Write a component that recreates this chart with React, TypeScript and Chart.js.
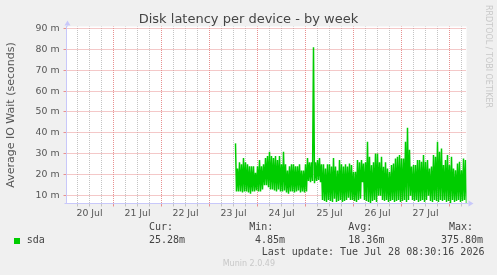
import React, { useEffect, useRef } from 'react';
import { Chart, registerables } from 'chart.js';

Chart.register(...registerables);

const TITLE = 'Disk latency per device - by week';
const Y_TITLE = 'Average IO Wait (seconds)';
const SERIES = 'sda';
const WATERMARK = 'RRDTOOL / TOBI OETIKER';
const FOOTER = 'Munin 2.0.49';
const LAST_UPDATE = 'Last update: Tue Jul 28 08:30:16 2026';

// x axis in hours since 20 Jul 00:00
const X_MIN = 0.5;
const X_MAX = 200.5;
const X_GRID_HOURS = [6, 12, 18, 24, 30, 36, 42, 48, 54, 60, 66, 72, 78, 84, 90, 96, 102, 108, 114, 120, 126, 132, 138, 144, 150, 156, 162, 168, 174, 180, 186, 192, 198];
const DAY_LABELS = ['20 Jul', '21 Jul', '22 Jul', '23 Jul', '24 Jul', '25 Jul', '26 Jul', '27 Jul'];

// y axis in milliseconds ("m")
const Y_MIN = 6.27;
const Y_MAX = 90.86;
const Y_GRID = [10, 15, 20, 25, 30, 35, 40, 45, 50, 55, 60, 65, 70, 75, 80, 85, 90];

// samples start 23 Jul 13:00, one high and one low per hour
const START_HOUR = 85;
const HIGHS = [
  35, 23, 26, 25, 28, 26, 25, 24, 24, 24, 21, 24, 27, 24, 25, 28, 29, 31, 29, 28, 29, 27, 29, 25, 31, 25, 22, 24,
  25, 25, 24, 24, 25, 22, 22, 25, 28, 26, 26,
  81,
  26, 27, 28, 25, 25, 23, 25, 25, 24, 28, 24, 22, 27, 25, 24, 25, 24,
  25.4, 24.6, 21.4, 21.4, 27, 26, 27, 25.4, 26, 35.8, 28.6, 24.6, 26, 30.2, 30.2, 26, 28.6, 23.8, 26, 23, 21.4, 24.6, 25.4, 27.8, 28.6, 29.4, 27.8, 27.8, 35.8,
  42.5,
  32, 24, 24.6, 24.6, 27, 27, 26.2, 29.4, 26.2, 27, 23, 24, 29.4, 28.6, 35.8, 31, 32.6, 24.6, 27, 29.4, 24.6, 28.6, 23, 22.2, 25.4, 26.2, 22.2, 27.8, 27,
];
const LOWS = [
  12, 12, 12, 11.5, 12, 12, 11.5, 11, 12, 12, 12.5, 12, 12, 13,
  15, 15, 14,
  13, 13, 12.5, 12, 13, 12, 12, 12.5, 11.5, 11, 12,
  12, 11.5, 12, 12.5, 11.5, 12, 11.5, 12,
  17, 16.5, 17, 16, 17, 17.5, 16.5,
  8, 7.5, 7, 8, 7.5, 7, 8.5, 7, 7.5, 8, 7, 7.5, 8, 9, 8,
  8, 7.5, 7, 8, 8.5, 16.5, 8, 7.5, 7, 6.5, 7.5, 8, 7, 10, 10, 8, 7.5, 8, 7, 7.5, 8, 7, 7.5, 8, 7, 7.5, 8, 7, 8,
  10, 8, 7.5, 8, 7, 7.5, 8, 7, 8, 10, 7.5, 7, 8, 7.5, 7, 8, 7.5, 8, 7, 7.5, 6.5, 8, 7, 7.5, 8, 7, 7.5, 8, 6,
];

const STAT_LABELS = ['Cur:', 'Min:', 'Avg:', 'Max:'];
const STAT_VALUES = ['25.28m', '4.85m', '18.36m', '375.80m'];

// layout / style
const STAT_LABEL_X = [149, 249.3, 348.3, 449];
const STAT_VALUE_X = [149, 255, 348.3, 441];
const GREEN = '#00cc00';
const AXIS = 'rgb(200,200,250)';
const MGRID = '#e89090';
const GRID = '#c4c4c4';
const SANS = 'DejaVu Sans';
const MONO = 'DejaVu Sans Mono';

const bgPlugin = {
  id: 'plotBg',
  beforeDraw(chart: any) {
    const { ctx, chartArea } = chart;
    ctx.save();
    ctx.fillStyle = '#ffffff';
    ctx.fillRect(chartArea.left, chartArea.top, chartArea.right - chartArea.left, chartArea.bottom - chartArea.top);
    ctx.restore();
  },
};

const arrowPlugin = {
  id: 'axisArrows',
  afterDraw(chart: any) {
    const { ctx, chartArea } = chart;
    const lx = Math.round(chartArea.left) + 0.5;
    const by = Math.round(chartArea.bottom) - 0.5;
    ctx.save();
    ctx.strokeStyle = AXIS;
    ctx.fillStyle = AXIS;
    ctx.lineWidth = 1;
    ctx.beginPath();
    ctx.moveTo(lx, chartArea.top);
    ctx.lineTo(lx, chartArea.top - 1);
    ctx.moveTo(lx - 3, by);
    ctx.lineTo(chartArea.right + 2, by);
    ctx.stroke();
    ctx.beginPath();
    ctx.moveTo(lx, chartArea.top - 6);
    ctx.lineTo(lx - 3, chartArea.top - 1);
    ctx.lineTo(lx + 3, chartArea.top - 1);
    ctx.closePath();
    ctx.fill();
    ctx.beginPath();
    ctx.moveTo(chartArea.right + 7, by);
    ctx.lineTo(chartArea.right + 2, by - 3);
    ctx.lineTo(chartArea.right + 2, by + 3);
    ctx.closePath();
    ctx.fill();
    ctx.restore();
  },
};

export default function App() {
  const canvasRef = useRef<HTMLCanvasElement>(null);

  useEffect(() => {
    document.body.style.margin = '0';
    const points: { x: number; y: number }[] = [];
    HIGHS.forEach((h, i) => {
      points.push({ x: START_HOUR + i, y: h });
      points.push({ x: START_HOUR + i + 0.5, y: LOWS[i] });
    });

    const chart = new Chart(canvasRef.current as HTMLCanvasElement, {
      type: 'line',
      data: {
        datasets: [
          {
            label: SERIES,
            data: points,
            borderColor: GREEN,
            backgroundColor: GREEN,
            borderWidth: 1.5,
            pointRadius: 0,
            tension: 0,
            fill: false,
          },
        ],
      },
      options: {
        animation: false,
        responsive: false,
        maintainAspectRatio: false,
        layout: { padding: 0 },
        plugins: {
          legend: { display: false },
          tooltip: { enabled: false },
          title: {
            display: true,
            text: TITLE,
            color: '#444',
            font: { family: SANS, size: 13, weight: 'normal', lineHeight: 1 },
            padding: { top: 13, bottom: 0.5 },
          },
        },
        scales: {
          x: {
            type: 'linear',
            min: X_MIN,
            max: X_MAX,
            afterBuildTicks: (s: any) => {
              s.ticks = X_GRID_HOURS.map((v) => ({ value: v }));
            },
            afterFit: (s: any) => {
              s.height = 71.5;
            },
            ticks: {
              autoSkip: false,
              maxRotation: 0,
              minRotation: 0,
              padding: 1,
              color: '#555',
              font: { family: SANS, size: 9.33 },
              callback: (v: any) => {
                const n = Number(v);
                return (n - 12) % 24 === 0 ? DAY_LABELS[(n - 12) / 24] : '';
              },
            },
            grid: {
              color: (c: any) => (c.tick && c.tick.value % 24 === 0 ? MGRID : GRID),
              tickColor: (c: any) => (c.tick && c.tick.value % 24 === 0 ? MGRID : GRID),
              lineWidth: 1,
              tickLength: 3,
              tickBorderDash: [],
            },
            border: { display: true, color: AXIS, width: 1, dash: [1, 1], dashOffset: 0.5 },
          },
          y: {
            type: 'linear',
            min: Y_MIN,
            max: Y_MAX,
            afterBuildTicks: (s: any) => {
              s.ticks = Y_GRID.map((v) => ({ value: v }));
            },
            afterFit: (s: any) => {
              s.width = 66.5;
            },
            ticks: {
              padding: 4,
              color: '#555',
              font: { family: SANS, size: 9.33 },
              callback: (v: any) => (Number(v) % 10 === 0 ? `${v} m` : ''),
            },
            grid: {
              color: (c: any) => (c.tick && c.tick.value % 10 === 0 ? MGRID : GRID),
              tickColor: (c: any) => (c.tick && c.tick.value % 10 === 0 ? MGRID : GRID),
              lineWidth: 1,
              tickLength: 3,
              tickBorderDash: [],
            },
            border: { display: true, color: AXIS, width: 1, dash: [1, 1], dashOffset: 0.5 },
            title: {
              display: true,
              text: Y_TITLE,
              color: '#555',
              font: { family: SANS, size: 11, lineHeight: 1.2 },
              padding: { top: 5, bottom: 0 },
            },
          },
          yRight: {
            type: 'linear',
            position: 'right',
            display: true,
            afterFit: (s: any) => {
              s.width = 30.5;
            },
            ticks: { display: false },
            grid: { display: false, drawTicks: false },
            border: { display: false },
          },
        },
      } as any,
      plugins: [bgPlugin, arrowPlugin],
    });
    return () => chart.destroy();
  }, []);

  const mono: React.CSSProperties = {
    position: 'absolute',
    fontFamily: MONO,
    fontSize: '10px',
    lineHeight: '12px',
    color: '#444',
    whiteSpace: 'pre',
  };

  return (
    <div style={{ position: 'fixed', left: 0, top: 0, width: 497, height: 275, background: '#f0f0f0', overflow: 'hidden' }}>
      <canvas ref={canvasRef} width={497} height={275} style={{ position: 'absolute', left: 0, top: 0, width: 497, height: 275 }} />
      <div
        style={{
          position: 'absolute',
          left: 483,
          top: 5,
          writingMode: 'vertical-rl',
          fontFamily: SANS,
          fontSize: '8px',
          lineHeight: '10px',
          color: '#c8c8c8',
          whiteSpace: 'pre',
        }}
      >
        {WATERMARK}
      </div>
      <div style={{ position: 'absolute', left: 14, top: 237.5, width: 6, height: 6, background: GREEN }} />
      <div style={{ ...mono, left: 26.7, top: 234 }}>{SERIES}</div>
      {STAT_LABELS.map((l, i) => (
        <div key={'l' + i} style={{ ...mono, left: STAT_LABEL_X[i], top: 221.2 }}>
          {l}
        </div>
      ))}
      {STAT_VALUES.map((v, i) => (
        <div key={'v' + i} style={{ ...mono, left: STAT_VALUE_X[i], top: 234 }}>
          {v}
        </div>
      ))}
      <div style={{ ...mono, left: 261.7, top: 245.5 }}>{LAST_UPDATE}</div>
      <div
        style={{
          position: 'absolute',
          left: 222.7,
          top: 259.2,
          fontFamily: SANS,
          fontSize: '8px',
          lineHeight: '10px',
          color: '#c8c8c8',
          whiteSpace: 'pre',
        }}
      >
        {FOOTER}
      </div>
    </div>
  );
}
